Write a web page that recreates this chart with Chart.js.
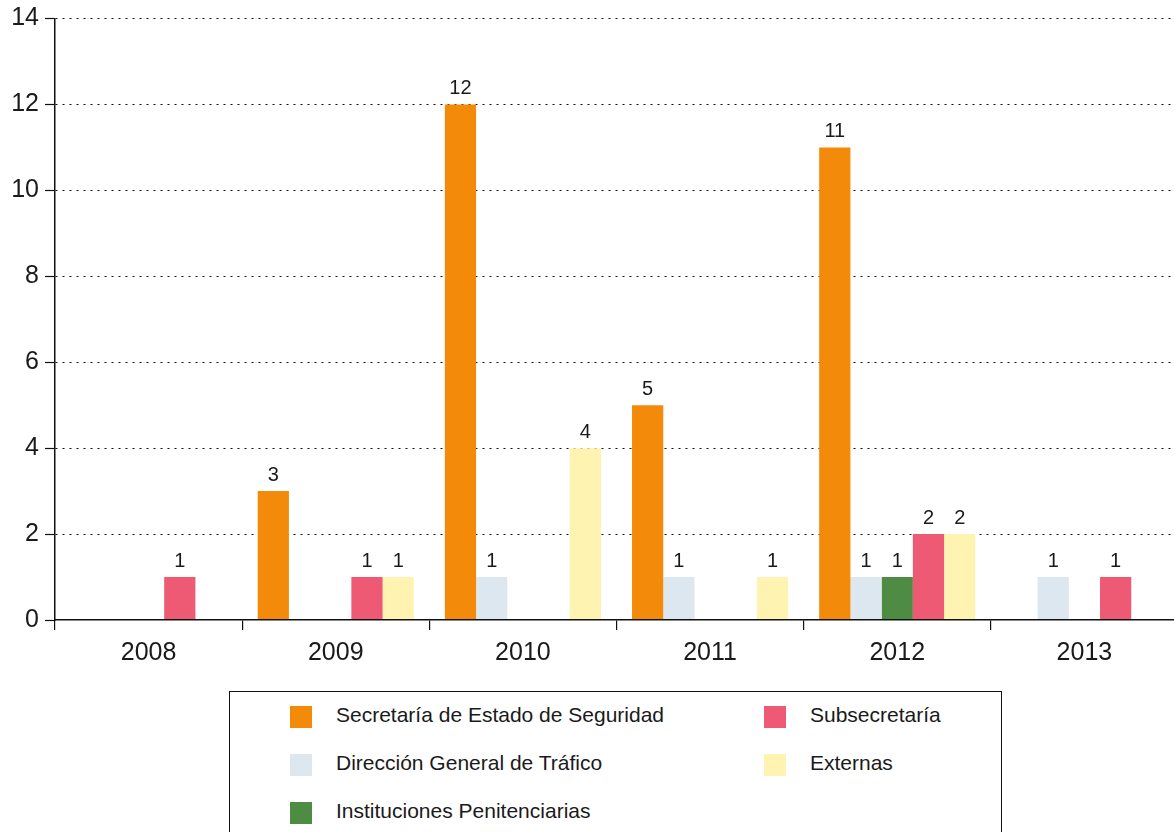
<!DOCTYPE html>
<html>
<head>
<meta charset="utf-8">
<script src="https://cdn.jsdelivr.net/npm/chart.js@4/dist/chart.umd.min.js"></script>
<style>
  html, body { margin: 0; padding: 0; background: #fff; overflow: hidden; width: 1174px; height: 832px; }
  #wrap { position: absolute; left: 0; top: 0; width: 1180px; height: 680px; }
  #legend { position: absolute; left: 229px; top: 691px; width: 773px; height: 160px; border: 1.5px solid #111; box-sizing: border-box; font-family: "Liberation Sans", Arial, sans-serif; font-size: 21px; color: #1a1a1a; }
  .item { position: absolute; height: 22px; }
  .sw { position: absolute; left: 0; top: 0; width: 22px; height: 22px; }
  .lb { position: absolute; left: 46px; top: -2px; line-height: 22px; white-space: nowrap; }
</style>
</head>
<body>
<div id="wrap"><canvas id="c" width="1180" height="680" style="width:1180px;height:680px"></canvas></div>
<div id="legend"></div>
<script>
const categories = ["2008", "2009", "2010", "2011", "2012", "2013"];
const secretaria   = [null, 3, 12, 5, 11, null];
const trafico      = [null, null, 1, 1, 1, 1];
const penitenciarias = [null, null, null, null, 1, null];
const subsecretaria = [1, 1, null, null, 2, 1];
const externas     = [null, 1, 4, 1, 2, null];
const seriesNames = ["Secretaría de Estado de Seguridad", "Dirección General de Tráfico", "Instituciones Penitenciarias", "Subsecretaría", "Externas"];
const seriesColors = ["#F38A0A", "#DCE7F0", "#4E8C44", "#EE5A73", "#FEF3B0"];
const yTicks = [0, 2, 4, 6, 8, 10, 12, 14];

const seriesData = [secretaria, trafico, penitenciarias, subsecretaria, externas];

const valueLabels = {
  id: 'valueLabels',
  afterDatasetsDraw(chart) {
    const ctx = chart.ctx;
    ctx.save();
    ctx.font = '20px "Liberation Sans", Arial, sans-serif';
    ctx.fillStyle = '#1a1a1a';
    ctx.textAlign = 'center';
    ctx.textBaseline = 'alphabetic';
    chart.data.datasets.forEach((ds, i) => {
      const meta = chart.getDatasetMeta(i);
      meta.data.forEach((bar, j) => {
        const v = ds.data[j];
        if (v === null || v === undefined) return;
        ctx.fillText(String(v), bar.x, bar.y - 10);
      });
    });
    ctx.restore();
  }
};

new Chart(document.getElementById('c'), {
  type: 'bar',
  data: {
    labels: categories,
    datasets: seriesData.map((d, i) => ({
      label: seriesNames[i],
      data: d,
      backgroundColor: seriesColors[i],
      borderWidth: 0,
      categoryPercentage: 0.834,
      barPercentage: 1.0
    }))
  },
  options: {
    responsive: false,
    animation: false,
    devicePixelRatio: 1,
    layout: { padding: { top: 18, left: 0, right: 2, bottom: 0 } },
    plugins: { legend: { display: false }, tooltip: { enabled: false } },
    scales: {
      x: {
        offset: true,
        grid: { offset: true, drawOnChartArea: false, drawTicks: true, tickLength: 10, color: '#111', lineWidth: 1.2 },
        border: { display: true, color: '#111', width: 1.6, z: 2 },
        ticks: { color: '#1a1a1a', font: { family: '"Liberation Sans", Arial, sans-serif', size: 25 }, padding: 8 },
        afterFit(s) { s.height = 60; }
      },
      y: {
        min: 0, max: 14,
        afterBuildTicks(s) { s.ticks = yTicks.map(v => ({ value: v })); },
        grid: {
          color: (c) => (c.tick && c.tick.value === 0) ? 'rgba(0,0,0,0)' : '#111',
          lineWidth: 1, drawTicks: true, tickLength: 10, tickColor: '#111', tickWidth: 1.2
        },
        border: { display: true, color: '#111', width: 1.5, dash: [2, 5] },
        ticks: { color: '#1a1a1a', font: { family: '"Liberation Sans", Arial, sans-serif', size: 25, lineHeight: 1.0 }, padding: 6 },
        afterFit(s) { s.width = 55; }
      }
    }
  },
  plugins: [valueLabels]
});

// Legend (two columns, order as in the reference)
const legendOrder = [
  { idx: 0, x: 60, y: 14 }, { idx: 3, x: 534, y: 14 },
  { idx: 1, x: 60, y: 62 }, { idx: 4, x: 534, y: 62 },
  { idx: 2, x: 60, y: 110 }
];
const lg = document.getElementById('legend');
legendOrder.forEach(o => {
  const it = document.createElement('div');
  it.className = 'item';
  it.style.left = o.x + 'px';
  it.style.top = o.y + 'px';
  const sw = document.createElement('div');
  sw.className = 'sw';
  sw.style.background = seriesColors[o.idx];
  const lb = document.createElement('div');
  lb.className = 'lb';
  lb.textContent = seriesNames[o.idx];
  it.appendChild(sw); it.appendChild(lb);
  lg.appendChild(it);
});
</script>
</body>
</html>
